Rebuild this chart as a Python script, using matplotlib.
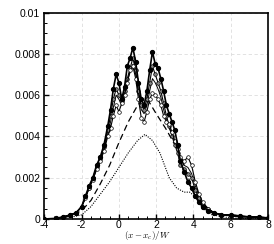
import numpy as np
import matplotlib.pyplot as plt
from matplotlib.ticker import MultipleLocator, FuncFormatter

# x positions (x - x_c)/W for the marker curves
x = [-4, -3.4, -3.0, -2.6, -2.3, -2.0, -1.8, -1.6, -1.4, -1.2, -1.0, -0.8, -0.6,
     -0.45, -0.3, -0.15, 0.0, 0.15, 0.3, 0.45, 0.6, 0.75, 0.9, 1.05, 1.2, 1.35,
     1.5, 1.65, 1.8, 1.95, 2.1, 2.25, 2.4, 2.55, 2.7, 2.85, 3.0, 3.15, 3.3, 3.5,
     3.7, 3.9, 4.1, 4.3, 4.5, 4.8, 5.1, 5.5, 6.0, 6.5, 7.0, 7.5, 8.0]

# filled black markers
y_filled = [0, 0.00003, 0.0001, 0.0002, 0.0003, 0.0006, 0.0011, 0.0016, 0.0020,
            0.0026, 0.0030, 0.0036, 0.0045, 0.0053, 0.0063, 0.0070, 0.0066,
            0.0058, 0.0064, 0.0074, 0.0078, 0.0083, 0.0076, 0.0066, 0.0058,
            0.0055, 0.0062, 0.0072, 0.0081, 0.0075, 0.0073, 0.0068, 0.0062,
            0.0055, 0.0051, 0.0047, 0.0043, 0.0036, 0.0028, 0.0023, 0.0018,
            0.0015, 0.0011, 0.0008, 0.0006, 0.0004, 0.0003, 0.0002, 0.0002,
            0.00015, 0.0001, 0.0001, 0.00005]

# open markers
y_open = [0, 0.00002, 0.00008, 0.00018, 0.0003, 0.0006, 0.0010, 0.0015, 0.0019,
          0.0024, 0.0028, 0.0033, 0.0040, 0.0044, 0.0050, 0.0055, 0.0052,
          0.0056, 0.0060, 0.0066, 0.0072, 0.0074, 0.0068, 0.0058, 0.0049,
          0.0047, 0.0052, 0.0058, 0.0061, 0.0060, 0.0058, 0.0055, 0.0050,
          0.0047, 0.0046, 0.0042, 0.0038, 0.0034, 0.0030, 0.0028, 0.0030,
          0.0026, 0.0018, 0.0012, 0.0008, 0.0005, 0.0003, 0.0002, 0.00015,
          0.0001, 0.0001, 0.00008, 0.00005]

# gray markers
y_gray = [0, 0.00002, 0.0001, 0.0002, 0.0003, 0.0006, 0.0011, 0.0015, 0.0020,
          0.0025, 0.0029, 0.0035, 0.0043, 0.0050, 0.0058, 0.0063, 0.0060,
          0.0057, 0.0062, 0.0068, 0.0073, 0.0078, 0.0072, 0.0062, 0.0055,
          0.0053, 0.0058, 0.0066, 0.0074, 0.0070, 0.0066, 0.0062, 0.0056,
          0.0050, 0.0045, 0.0040, 0.0036, 0.0032, 0.0026, 0.0024, 0.0022,
          0.0020, 0.0014, 0.0010, 0.0007, 0.0005, 0.0003, 0.0002, 0.0002,
          0.00015, 0.0001, 0.0001, 0.00005]

# thin solid line, no markers
y_thin = [0, 0.00002, 0.0001, 0.0002, 0.0003, 0.0006, 0.0010, 0.0015, 0.0019,
          0.0024, 0.0028, 0.0034, 0.0041, 0.0047, 0.0054, 0.0060, 0.0058,
          0.0055, 0.0060, 0.0067, 0.0071, 0.0075, 0.0070, 0.0061, 0.0053,
          0.0051, 0.0055, 0.0062, 0.0068, 0.0066, 0.0063, 0.0059, 0.0053,
          0.0048, 0.0044, 0.0041, 0.0037, 0.0033, 0.0029, 0.0026, 0.0025,
          0.0022, 0.0016, 0.0011, 0.0007, 0.0005, 0.0003, 0.0002, 0.00015,
          0.0001, 0.0001, 0.00008, 0.00005]

# dashed line
x_dash = [-4, -3, -2.5, -2, -1.5, -1, -0.5, 0, 0.5, 1, 1.3, 1.6, 2, 2.5, 3,
          3.5, 4, 4.5, 5, 6, 7, 8]
y_dash = [0, 0.00005, 0.0002, 0.0004, 0.0009, 0.0017, 0.0026, 0.0037, 0.0047,
          0.0055, 0.0058, 0.0057, 0.0051, 0.0044, 0.0036, 0.0026, 0.0013,
          0.0005, 0.0003, 0.00015, 0.0001, 0.00005]

# dotted line
x_dot = [-4, -3, -2.5, -2, -1.5, -1, -0.5, 0, 0.5, 1, 1.4, 1.8, 2.2, 2.7, 3.1,
         3.5, 3.8, 4.2, 4.6, 5, 6, 7, 8]
y_dot = [0, 0.00002, 0.0001, 0.0002, 0.0006, 0.0012, 0.0018, 0.0025, 0.0032,
         0.0038, 0.0041, 0.0038, 0.0032, 0.0020, 0.0015, 0.0013, 0.0013,
         0.0010, 0.0005, 0.0002, 0.00005, 0.00002, 0]

plt.rcParams['font.family'] = ['Liberation Sans', 'DejaVu Sans']
plt.rcParams['mathtext.fontset'] = 'cm'
plt.rcParams['axes.unicode_minus'] = False

fig = plt.figure(figsize=(2.74, 2.44), dpi=100)
ax = fig.add_axes([0.162, 0.1025, 0.816, 0.846])

ax.plot(x_dot, y_dot, color='black', lw=0.8, ls=(0, (1, 1.2)))
ax.plot(x_dash, y_dash, color='black', lw=0.9, ls=(0, (5, 3)))
ax.plot(x, y_thin, color='black', lw=0.7)
ax.plot(x, y_gray, color='black', lw=0.8, marker='o', ms=2.6,
        mfc='#888888', mec='black', mew=0.5)
ax.plot(x, y_open, color='black', lw=0.8, marker='o', ms=2.6,
        mfc='white', mec='black', mew=0.5)
ax.plot(x, y_filled, color='black', lw=1.2, marker='o', ms=2.8,
        mfc='black', mec='black')

ax.set_xlim(-4, 8)
ax.set_ylim(0, 0.01)
ax.xaxis.set_major_locator(MultipleLocator(2))
ax.xaxis.set_minor_locator(MultipleLocator(0.5))
ax.yaxis.set_major_locator(MultipleLocator(0.002))
ax.yaxis.set_minor_locator(MultipleLocator(0.0005))
ax.yaxis.set_major_formatter(FuncFormatter(lambda v, p: '0' if abs(v) < 1e-12 else ('%g' % round(v, 4))))
ax.tick_params(which='both', direction='in', top=False, right=False, labelsize=7.5)
ax.tick_params(axis='y', pad=3)
ax.tick_params(axis='x', pad=0.5)
ax.tick_params(which='major', length=3.5, width=1)
ax.tick_params(which='minor', length=2, width=0.7)
ax.grid(True, which='major', color='#dddddd', ls=(0, (4, 3)), lw=0.6)
for s in ax.spines.values():
    s.set_linewidth(1.2)

ax.set_xlabel(r'$(x-x_c)/W$', fontsize=6.5)
ax.xaxis.set_label_coords(0.46, -0.078, transform=ax.transAxes)
ax.xaxis.label.set_va('center')

fig.savefig('out.png', dpi=100)
